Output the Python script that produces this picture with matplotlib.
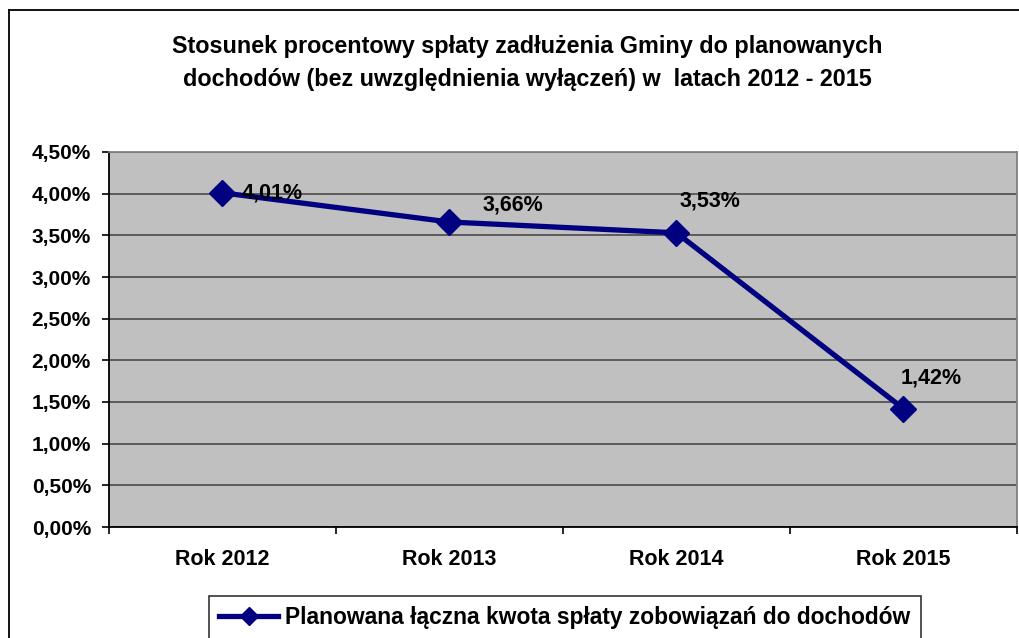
import numpy as np
import matplotlib
matplotlib.use("Agg")
import matplotlib.pyplot as plt
from matplotlib.ticker import FuncFormatter, FixedLocator
from matplotlib.lines import Line2D

plt.rcParams['font.family'] = ['Liberation Sans', 'DejaVu Sans']
plt.rcParams['font.weight'] = 'bold'

categories = ['Rok 2012', 'Rok 2013', 'Rok 2014', 'Rok 2015']
values = [4.01, 3.66, 3.53, 1.42]   # %
series_name = 'Planowana łączna kwota spłaty zobowiązań do dochodów'
title = ('Stosunek procentowy spłaty zadłużenia Gminy do planowanych\n'
         'dochodów (bez uwzględnienia wyłączeń) w  latach 2012 - 2015')

# label offsets in points (manual, like in the source sheet)
label_offsets = [(14, 0), (24, 12), (2, 23), (-2, 22)]

navy = '#000080'

fig = plt.figure(figsize=(10.2, 6.38), dpi=100)
ax = fig.add_axes([109/1020, 1-527/638, 908/1020, 375/638])
ax.set_facecolor('#C0C0C0')

x = np.arange(len(categories))
ax.plot(x, values, color=navy, lw=3.8, marker='D', markersize=13,
        markerfacecolor=navy, markeredgecolor=navy, zorder=3)

for i, v in enumerate(values):
    ax.annotate('{:.2f}%'.format(v).replace('.', ','), (x[i], v),
                xytext=label_offsets[i], textcoords='offset points',
                ha='left', va='center', fontsize=15.5, fontweight='bold',
                zorder=4)

ax.set_ylim(0, 4.5)
ax.set_yticks(np.arange(0, 4.51, 0.5))
ax.yaxis.set_major_formatter(FuncFormatter(lambda v, p: '{:.2f}%'.format(v).replace('.', ',')))
ax.grid(axis='y', color='#404040', lw=1.1)
ax.set_axisbelow(True)

ax.set_xlim(-0.5, len(categories) - 0.5)
ax.xaxis.set_major_locator(FixedLocator(np.arange(-0.5, len(categories), 1.0)))
ax.xaxis.set_minor_locator(FixedLocator(x))
ax.set_xticklabels([], minor=False)
ax.set_xticklabels(categories, minor=True)
ax.tick_params(axis='x', which='major', length=5, width=1.2, direction='out', color='black')
ax.tick_params(axis='x', which='minor', length=0, pad=16, labelsize=15.5)
ax.tick_params(axis='y', length=5, width=1.2, direction='out', pad=8, labelsize=15)
for t in ax.get_xticklabels(minor=True) + ax.get_yticklabels():
    t.set_fontweight('bold')

for s in ['left', 'bottom']:
    ax.spines[s].set_color('black')
    ax.spines[s].set_linewidth(1.3)
for s in ['top', 'right']:
    ax.spines[s].set_color('#808080')
    ax.spines[s].set_linewidth(1.3)

fig.text(0.5 + 17/1020, 1 - 63/638, title, ha='center', va='center',
         fontsize=16.8, fontweight='bold', linespacing=1.6)

# outer chart frame (cut by the image edges)
fig.add_artist(Line2D([9/1020, 9/1020], [0, 1-10/638], color='black', lw=1.3))
fig.add_artist(Line2D([9/1020, 1], [1-10/638, 1-10/638], color='black', lw=1.3))

handle = Line2D([], [], color=navy, lw=3.8, marker='D', markersize=9,
                markerfacecolor=navy, markeredgecolor=navy)
leg = fig.legend([handle], [series_name], loc='upper left',
                 bbox_to_anchor=(209/1020, 1-596/638), frameon=True,
                 fancybox=False, edgecolor='black', handlelength=2.6,
                 handletextpad=0.3, borderpad=0.45, borderaxespad=0,
                 prop={'weight': 'bold', 'size': 16.4})
leg.get_frame().set_linewidth(1.2)

fig.savefig('out.png', dpi=100)
